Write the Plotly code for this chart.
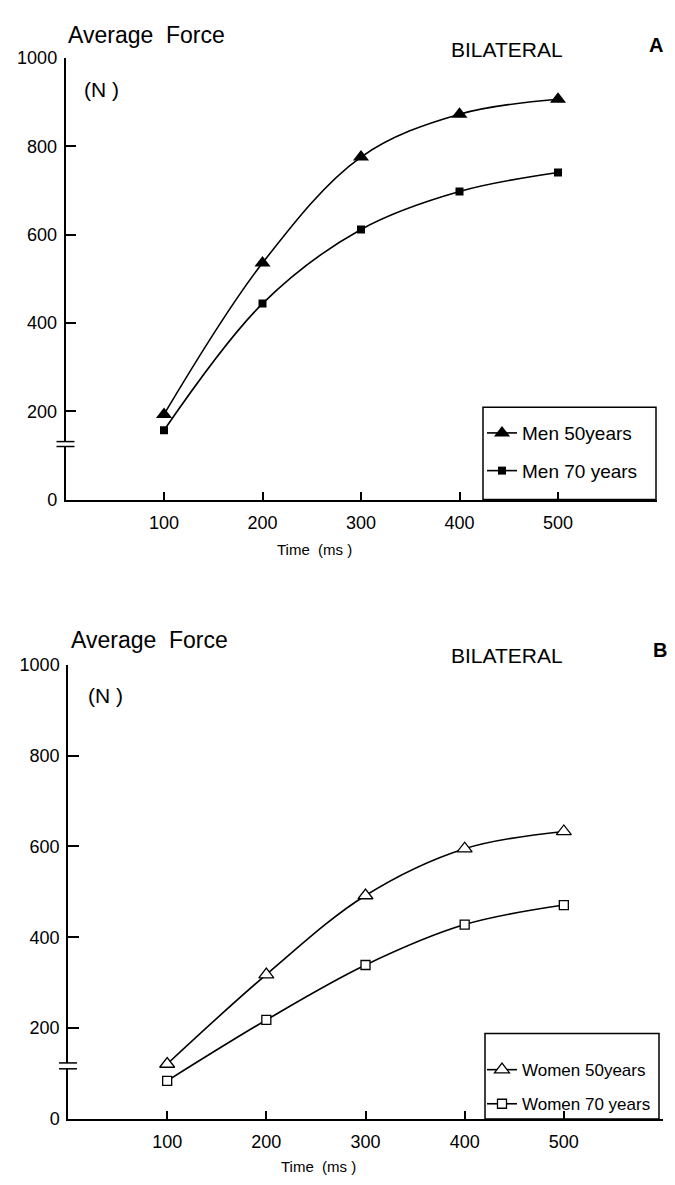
import plotly.graph_objects as go

# ---- data ----
time_ms = [100, 200, 300, 400, 500]
men_50 = [193, 536, 776, 873, 907]
men_70 = [157, 444, 612, 698, 741]
women_50 = [121, 318, 492, 595, 633]
women_70 = [84, 218, 339, 428, 471]
y_ticks = [0, 200, 400, 600, 800, 1000]
x_ticks = [100, 200, 300, 400, 500]

W, H = 675, 1185
FONT = "Liberation Sans, Arial, Helvetica, sans-serif"


def px(x):
    return x / W


def py(y):
    return 1 - y / H


fig = go.Figure()

line_a = dict(shape="spline", color="black", width=1.6)
fig.add_trace(go.Scatter(
    x=time_ms, y=men_50, name="Men 50years", mode="lines+markers",
    line=line_a, marker=dict(symbol="triangle-up", size=14, color="black"),
    xaxis="x", yaxis="y", legend="legend", legendgroup="a1"))
fig.add_trace(go.Scatter(
    x=time_ms, y=men_70, name="Men 70 years", mode="lines+markers",
    line=line_a, marker=dict(symbol="square", size=8, color="black"),
    xaxis="x", yaxis="y", legend="legend", legendgroup="a2"))
fig.add_trace(go.Scatter(
    x=time_ms, y=women_50, name="Women 50years", mode="lines+markers",
    line=line_a, marker=dict(symbol="triangle-up", size=13, color="white",
                             line=dict(color="black", width=1.3)),
    xaxis="x2", yaxis="y2", legend="legend2", legendgroup="b1"))
fig.add_trace(go.Scatter(
    x=time_ms, y=women_70, name="Women 70 years", mode="lines+markers",
    line=line_a, marker=dict(symbol="square", size=9, color="white",
                             line=dict(color="black", width=1.3)),
    xaxis="x2", yaxis="y2", legend="legend2", legendgroup="b2"))

axis_common = dict(showgrid=False, zeroline=False, showline=True,
                   linecolor="black", linewidth=1.5, ticks="inside",
                   tickcolor="black", tickwidth=1.5,
                   tickfont=dict(family=FONT, size=18, color="black"))

fig.update_layout(
    width=W, height=H, margin=dict(l=0, r=0, t=0, b=0),
    paper_bgcolor="white", plot_bgcolor="white",
    font=dict(family=FONT, color="black"),
    xaxis=dict(domain=[px(65.5), px(656.5)], range=[0, 600], anchor="y",
               tickvals=x_ticks, ticklen=8, ticklabelstandoff=6, **axis_common),
    yaxis=dict(domain=[py(498), py(49)], range=[0, 1000], anchor="x",
               tickvals=y_ticks, ticklen=11, ticklabelstandoff=3, **axis_common),
    xaxis2=dict(domain=[px(68), px(663)], range=[0, 600], anchor="y2",
                tickvals=x_ticks, ticklen=8, ticklabelstandoff=6, **axis_common),
    yaxis2=dict(domain=[py(1128), py(666)], range=[0, 1000], anchor="x2",
                tickvals=y_ticks, ticklen=11, ticklabelstandoff=3, **axis_common),
    legend=dict(x=px(482), y=py(411), xanchor="left", yanchor="top",
                bgcolor="rgba(0,0,0,0)", borderwidth=0, tracegroupgap=10,
                font=dict(family=FONT, size=19, color="black")),
    legend2=dict(x=px(482), y=py(1060), xanchor="left", yanchor="top",
                 bgcolor="rgba(0,0,0,0)", borderwidth=0, tracegroupgap=9,
                 font=dict(family=FONT, size=17, color="black")),
)

shapes = []
# legend boxes
shapes.append(dict(type="rect", xref="paper", yref="paper",
                   x0=px(483), x1=px(656), y0=py(498), y1=py(404),
                   line=dict(color="black", width=1.5)))
shapes.append(dict(type="rect", xref="paper", yref="paper",
                   x0=px(485), x1=px(659), y0=py(1128), y1=py(1041),
                   line=dict(color="black", width=1.5)))
# axis breaks
for ax_x, y1, y2 in [(65.5, 439, 444), (68, 1071, 1077)]:
    shapes.append(dict(type="rect", xref="paper", yref="paper",
                       x0=px(ax_x - 3), x1=px(ax_x + 3), y0=py(y2), y1=py(y1),
                       line=dict(width=0), fillcolor="white"))
    for yy in (y1, y2):
        shapes.append(dict(type="line", xref="paper", yref="paper",
                           x0=px(ax_x - 9), x1=px(ax_x + 9), y0=py(yy), y1=py(yy),
                           line=dict(color="black", width=1.5)))
fig.update_layout(shapes=shapes)

annots = [
    ("Average  Force", 66, 25, 23, "left", False),
    ("(N )", 82, 81, 21, "left", False),
    ("BILATERAL", 449, 40, 21, "left", False),
    ("A", 656, 36, 20, "center", True),
    ("Time  (ms )", 314, 549, 15, "center", False),
    ("Average  Force", 69, 641, 23, "left", False),
    ("(N )", 86, 697, 21, "left", False),
    ("BILATERAL", 449, 657, 21, "left", False),
    ("B", 660, 651, 20, "center", True),
    ("Time  (ms )", 318, 1176, 15, "center", False),
]
for text, x, y, size, anchor, bold in annots:
    fig.add_annotation(text=f"<b>{text}</b>" if bold else text,
                       xref="paper", yref="paper", x=px(x), y=py(y),
                       xanchor=anchor, yanchor="middle", showarrow=False,
                       font=dict(family=FONT, size=size, color="black"))

fig.write_html("out.html")
